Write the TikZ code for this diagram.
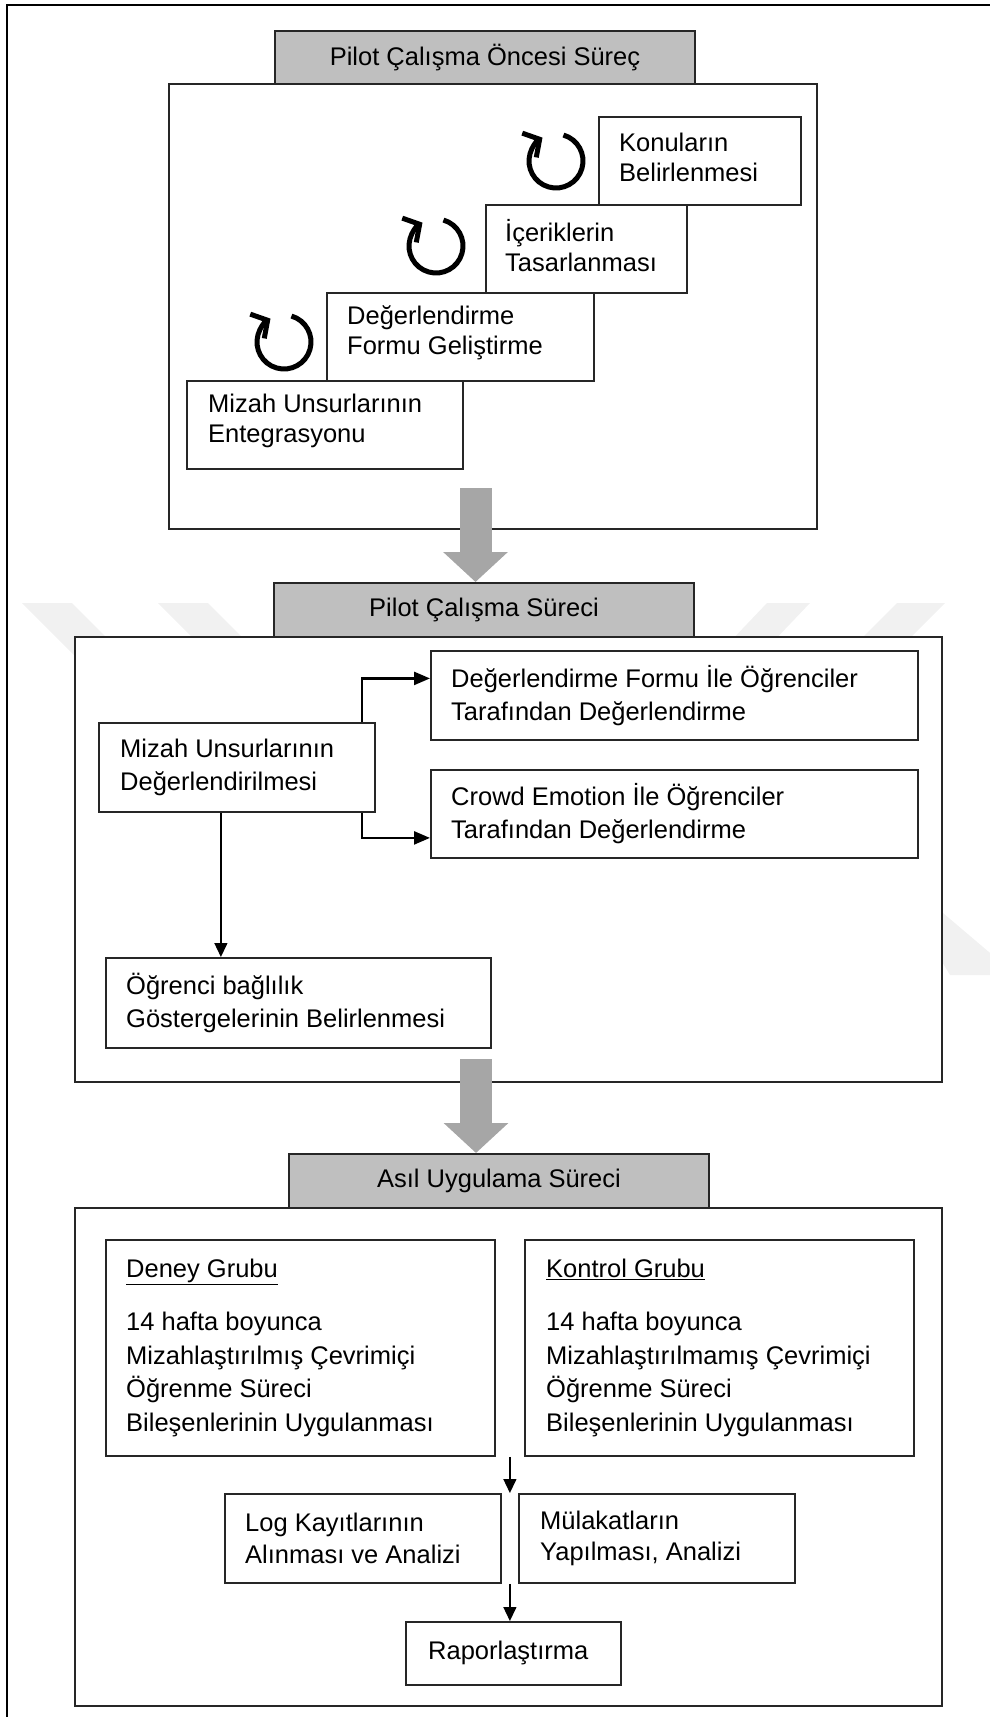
\documentclass[tikz,border=0pt]{standalone}
\usepackage{fontspec}
\setmainfont{Liberation Sans}
\usepackage{tikz}
\usetikzlibrary{arrows.meta, positioning, calc}
\definecolor{ink}{HTML}{262626}
\definecolor{tabgray}{HTML}{BFBFBF}
\definecolor{flowgray}{HTML}{A6A6A6}
\definecolor{wmgray}{HTML}{F1F1F1}

\begin{document}
\begin{tikzpicture}[x=1pt, y=-1pt,
  panel/.style={rectangle, draw=ink, line width=2pt, fill=white, anchor=north west, inner sep=0pt},
  box/.style={rectangle, draw=ink, line width=1.8pt, fill=white, anchor=north west, inner sep=0pt},
  tab/.style={rectangle, draw=ink, line width=2pt, fill=tabgray, anchor=north west, inner sep=0pt, font=\fontsize{25.5}{30}\selectfont},
  item/.style={font=\fontsize{25.5}{30}\selectfont, anchor=west, align=left, inner sep=0pt},
  itemwide/.style={item, font=\fontsize{25.5}{33}\selectfont},
  link/.style={draw=black, line width=2.4pt, -{Triangle[length=16pt, width=13pt]}},
  flowline/.style={draw=black, line width=1.4pt, -{Triangle[length=14pt, width=13pt]}},
  flow/.style={draw=flowgray, line width=32pt, -{Triangle[length=30pt, width=63pt]}},
  loopicon/.style={draw=black, line width=5pt, -{Straight Barb[length=12pt, width=28pt, line cap=butt]}}
]
  \useasboundingbox (0,0) rectangle (990,1717);

  % watermark
  \fill[wmgray] (22,603) -- (72,603) -- (130,661) -- (80,661) -- cycle;
  \fill[wmgray] (158,603) -- (208,603) -- (250,645) -- (200,645) -- cycle;
  \fill[wmgray] (767,603) -- (810,603) -- (770,645) -- (727,645) -- cycle;
  \fill[wmgray] (897,603) -- (945,603) -- (903,645) -- (855,645) -- cycle;
  \fill[wmgray] (880,860) -- (943,913) -- (1016,975) -- (950,975) -- cycle;

  % outer frame
  \draw[line width=2.5pt] (990,5) -- (7,5) -- (7,1717);

  % Pilot calisma oncesi
  \node[tab, minimum width=420, minimum height=53] (t1) at (274,30) {Pilot Çalışma Öncesi Süreç};
  \node[panel, minimum width=648, minimum height=445] (pre) at (168,83) {};

  \node[box, minimum width=202, minimum height=88] (konu) at (598,116) {};
  \node[item] (konu-t) at ([xshift=21pt, yshift=4pt]konu.west) {Konuların\\Belirlenmesi};
  \node[box, minimum width=201, minimum height=88] (icerik) at (485,204) {};
  \node[item] (icerik-t) at ([xshift=20pt, yshift=3pt]icerik.west) {İçeriklerin\\Tasarlanması};
  \node[box, minimum width=267, minimum height=88] (form) at (326,292) {};
  \node[item] (form-t) at ([xshift=21pt, yshift=4pt]form.west) {Değerlendirme\\Formu Geliştirme};
  \node[box, minimum width=276, minimum height=88] (entegr) at (186,380) {};
  \node[item] (entegr-t) at ([xshift=22pt, yshift=4pt]entegr.west) {Mizah Unsurlarının\\Entegrasyonu};

  \coordinate (spin1) at (556,161);
  \coordinate (spin2) at (436,246);
  \coordinate (spin3) at (284,342);
  \foreach \s in {spin1, spin2, spin3}
    \draw[loopicon] ([shift={(74:27pt)}]\s) arc[start angle=74, end angle=-240, radius=27pt];

  % Pilot calisma sureci
  \node[tab, minimum width=420, minimum height=54] (t2) at (273,582) {Pilot Çalışma Süreci};
  \node[panel, minimum width=867, minimum height=445] (pilot) at (74,636) {};

  \node[box, minimum width=487, minimum height=89] (formu) at (430,650) {};
  \node[itemwide] (formu-t) at ([xshift=21pt]formu.west) {Değerlendirme Formu İle Öğrenciler\\Tarafından Değerlendirme};
  \node[box, minimum width=487, minimum height=88] (crowd) at (430,769) {};
  \node[itemwide] (crowd-t) at ([xshift=21pt]crowd.west) {Crowd Emotion İle Öğrenciler\\Tarafından Değerlendirme};
  \node[box, minimum width=276, minimum height=89] (mizah) at (98,722) {};
  \node[itemwide] (mizah-t) at ([xshift=22pt]mizah.west) {Mizah Unsurlarının\\Değerlendirilmesi};
  \node[box, minimum width=385, minimum height=90] (ogrenci) at (105,957) {};
  \node[itemwide] (ogrenci-t) at ([xshift=21pt]ogrenci.west) {Öğrenci bağlılık\\Göstergelerinin Belirlenmesi};

  \draw[link] ([xshift=-14pt]mizah.north east) |- ([yshift=17pt]formu.west);
  \draw[link] ([xshift=-14pt]mizah.south east) |- ([yshift=-24pt]crowd.west);
  \draw[flowline] ([xshift=-16pt]mizah.south) -- ([xshift=-16pt]mizah.south |- ogrenci.north);

  % Asil uygulama sureci
  \node[tab, minimum width=420, minimum height=54] (t3) at (288,1153) {Asıl Uygulama Süreci};
  \node[panel, minimum width=867, minimum height=498] (main) at (74,1207) {};

  \node[box, minimum width=389, minimum height=216] (deney) at (105,1239) {};
  \node[item, font=\fontsize{25.5}{33.5}\selectfont] (deney-t) at ([xshift=21pt]deney.west)
    {\underline{Deney Grubu}\\[20pt]14 hafta boyunca\\Mizahlaştırılmış Çevrimiçi\\Öğrenme Süreci\\Bileşenlerinin Uygulanması};
  \node[box, minimum width=389, minimum height=216] (kontrol) at (524,1239) {};
  \node[item, font=\fontsize{25.5}{33.5}\selectfont] (kontrol-t) at ([xshift=22pt]kontrol.west)
    {\underline{Kontrol Grubu}\\[20pt]14 hafta boyunca\\Mizahlaştırılmamış Çevrimiçi\\Öğrenme Süreci\\Bileşenlerinin Uygulanması};

  \node[box, minimum width=276, minimum height=89] (log) at (224,1493) {};
  \node[item, font=\fontsize{25.5}{31.5}\selectfont] (log-t) at ([xshift=21pt]log.west) {Log Kayıtlarının\\Alınması ve Analizi};
  \node[box, minimum width=276, minimum height=89] (mulakat) at (518,1493) {};
  \node[item, font=\fontsize{25.5}{31.5}\selectfont] (mulakat-t) at ([xshift=22pt]mulakat.west) {Mülakatların\\Yapılması, Analizi};
  \node[box, minimum width=215, minimum height=63] (rapor) at (405,1621) {};
  \node[item] (rapor-t) at ([xshift=23pt]rapor.west) {Raporlaştırma};

  \coordinate (gap1) at ($(deney.south east)!0.5!(kontrol.south west)$);
  \coordinate (gap2) at ($(log.south east)!0.5!(mulakat.south west)$);
  \draw[flowline] (gap1) -- (gap1 |- log.north);
  \draw[flowline] (gap2) -- (gap2 |- rapor.north);

  % gray arrows between the stages
  \coordinate (f1) at (475.5,488);
  \coordinate (f2) at (476,1059);
  \draw[flow] (f1) -- (f1 |- t2.north);
  \draw[flow] (f2) -- (f2 |- t3.north);
\end{tikzpicture}
\end{document}
